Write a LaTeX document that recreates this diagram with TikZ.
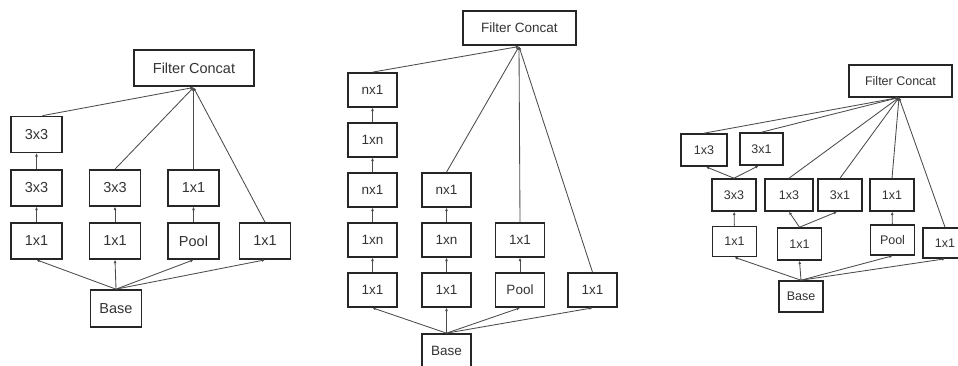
\documentclass[tikz,border=0pt]{standalone}
\usepackage{fontspec}
\setmainfont{Liberation Sans}
\usetikzlibrary{arrows.meta}

\tikzset{
  box/.style={draw=black!85, line width=1.7pt, fill=white, text=black!80,
    inner sep=0pt, minimum width=51pt, minimum height=36pt,
    font=\fontsize{14.5}{16}\selectfont},
  boxb/.style={box, minimum width=49pt, minimum height=34pt,
    font=\fontsize{13.5}{15}\selectfont},
  boxc/.style={box, minimum width=44pt, minimum height=32pt, line width=1.6pt,
    font=\fontsize{12.5}{14}\selectfont},
  link/.style={draw=black!70, line width=0.85pt,
    -{Latex[length=3.2pt,width=3pt]}},
}

\begin{document}
\begin{tikzpicture}[x=1pt, y=-1pt]
\useasboundingbox (0,0) rectangle (958,365);
\clip (0,0) rectangle (958,365);
\fill[white] (0,0) rectangle (958,365);

% ---------- module with two stacked 3x3 convolutions ----------
\node[box, minimum width=120pt] (fcA) at (194,68) {Filter Concat};
\coordinate (fcAp) at (193.5,87.5);
\node[box] (a1) at (36.5,134.5) {3x3};
\node[box] (a2) at (36.5,188) {3x3};
\node[box] (a3) at (36.5,241) {1x1};
\node[box] (b2) at (115,188) {3x3};
\node[box] (b3) at (115,241) {1x1};
\node[box] (c2) at (193.5,188) {1x1};
\node[box] (c3) at (193.5,241) {Pool};
\node[box] (d3) at (265,241) {1x1};
\node[box, minimum height=37pt] (baseA) at (116,308.5) {Base};

\foreach \t in {a3,b3,c3,d3} \draw[link] (baseA.north) -- (\t.south);
\draw[link] (a3) -- (a2);
\draw[link] (a2) -- (a1);
\draw[link] (b3) -- (b2);
\draw[link] (c3) -- (c2);
\draw[link] ([xshift=6pt]a1.north) -- (fcAp);
\draw[link] (b2.north) -- (fcAp);
\draw[link] (c2.north) -- (fcAp);
\draw[link] (d3.north) -- (fcAp);

% ---------- module with factorised 1xn / nx1 convolutions ----------
\node[boxb, minimum width=113pt] (fcB) at (519.5,28) {Filter Concat};
\coordinate (fcBp) at (519,46.5);
\node[boxb] (e1) at (372.5,90) {nx1};
\node[boxb] (e2) at (372.5,140) {1xn};
\node[boxb] (e3) at (372.5,190) {nx1};
\node[boxb] (e4) at (372.5,240) {1xn};
\node[boxb] (e5) at (372.5,290) {1x1};
\node[boxb] (f3) at (446.5,190) {nx1};
\node[boxb] (f4) at (446.5,240) {1xn};
\node[boxb] (f5) at (446.5,290) {1x1};
\node[boxb] (g4) at (520,240) {1x1};
\node[boxb] (g5) at (520,290) {Pool};
\node[boxb] (h5) at (592.5,290) {1x1};
\node[boxb] (baseB) at (446.5,351) {Base};

\foreach \t in {e5,f5,g5,h5} \draw[link] (baseB.north) -- (\t.south);
\draw[link] (e5) -- (e4);
\draw[link] (e4) -- (e3);
\draw[link] (e3) -- (e2);
\draw[link] (e2) -- (e1);
\draw[link] (f5) -- (f4);
\draw[link] (f4) -- (f3);
\draw[link] (g5) -- (g4);
\foreach \s in {e1,f3,g4,h5} \draw[link] (\s.north) -- (fcBp);

% ---------- module with expanded 1x3 / 3x1 filter bank ----------
\node[boxc, minimum width=103pt] (fcC) at (900.5,81) {Filter Concat};
\coordinate (fcCp) at (899,97.5);
\node[boxc, minimum width=46pt] (p1) at (704,150) {1x3};
\node[boxc, minimum width=43pt] (p2) at (761.5,149) {3x1};
\node[boxc] (q1) at (734,195) {3x3};
\node[boxc, minimum width=48pt] (q2) at (789,195) {1x3};
\node[boxc] (q3) at (840,195) {3x1};
\node[boxc] (q4) at (892,195) {1x1};
\node[boxc, minimum height=30pt] (r1) at (734.5,241.5) {1x1};
\node[boxc] (r2) at (799.5,244) {1x1};
\node[boxc, minimum height=30pt] (r3) at (892.5,240) {Pool};
\node[boxc, minimum height=30pt] (r4) at (945,243) {1x1};
\node[boxc, minimum height=31pt] (baseC) at (801,296.5) {Base};

\foreach \t in {r1,r2,r3,r4} \draw[link] (baseC.north) -- (\t.south);
\draw[link] (r1) -- (q1);
\draw[link] (q1.north) -- ([xshift=2pt]p1.south);
\draw[link] (q1.north) -- ([xshift=-3pt]p2.south);
\draw[link] (r2.north) -- (q2.south);
\draw[link] (r2.north) -- ([xshift=-3pt]q3.south);
\draw[link] (r3) -- (q4);
\foreach \s in {p1,p2,q2,q3,q4,r4} \draw[link] (\s.north) -- (fcCp);
\end{tikzpicture}
\end{document}
